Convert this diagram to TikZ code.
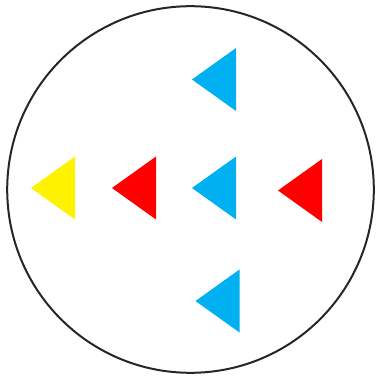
\documentclass[tikz,border=0pt]{standalone}
\definecolor{azul}{HTML}{00B0F0}
\begin{document}
\begin{tikzpicture}[x=1pt, y=-1pt,
    seta/.pic={\fill[#1] (0,0) -- (44,-31.5) -- (44,31.5) -- cycle;}]
\useasboundingbox (0,0) rectangle (377,379);
\draw[line width=2pt, black!85] (190.5,189.5) circle (183.3);
\pic at (192,79.5) {seta=azul};
\pic at (31,188) {seta=yellow};
\pic at (112,188) {seta=red};
\pic at (192,188) {seta=azul};
\pic at (278,190.5) {seta=red};
\pic at (195.5,301) {seta=azul};
\end{tikzpicture}
\end{document}
